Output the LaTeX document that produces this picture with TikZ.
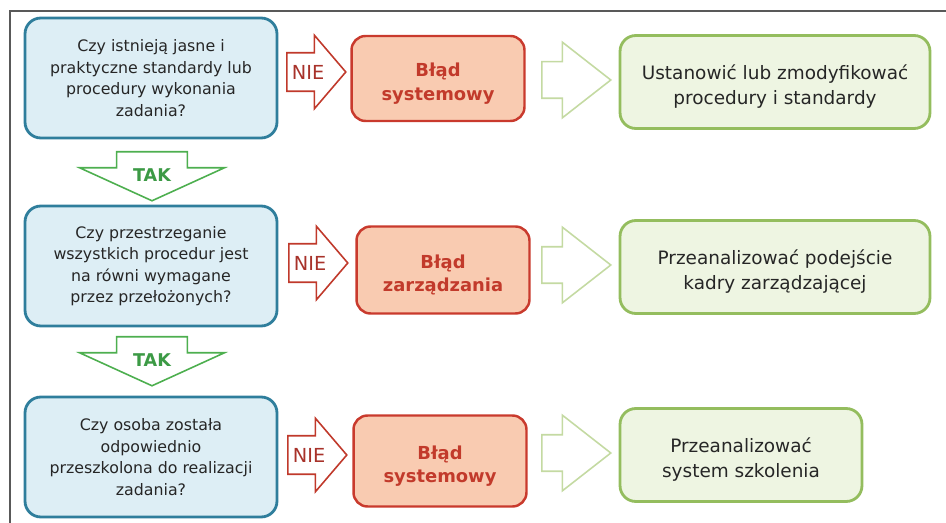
\documentclass[tikz,border=0pt]{standalone}
\usepackage{fontspec}
\setmainfont{DejaVu Sans}
\usetikzlibrary{shapes.arrows}

\definecolor{qfill}{HTML}{DDEEF5}
\definecolor{qline}{HTML}{2F7E9C}
\definecolor{efill}{HTML}{F9CBB1}
\definecolor{eline}{HTML}{C93A2D}
\definecolor{etext}{HTML}{C23A2B}
\definecolor{afill}{HTML}{EEF5E2}
\definecolor{aline}{HTML}{94BD5E}
\definecolor{hline}{HTML}{C4DAA2}
\definecolor{yline}{HTML}{4DAF4F}
\definecolor{ytext}{HTML}{3C9A45}
\definecolor{nline}{HTML}{C0392B}
\definecolor{ntext}{HTML}{A8322A}

% podniesienie pierwszego wiersza
\def\lift{\rule{0pt}{13.5pt}}

\tikzset{
  question/.style={draw=qline, fill=qfill, line width=1.6pt, rounded corners=9pt,
    align=center, minimum width=5.04cm, minimum height=2.4cm, text=black!85,
    font=\fontsize{9}{12.2}\selectfont},
  error/.style={draw=eline, fill=efill, line width=1.4pt, rounded corners=8pt,
    align=center, minimum width=3.46cm, text=etext,
    font=\fontsize{10.2}{13.4}\selectfont\bfseries},
  action/.style={draw=aline, fill=afill, line width=1.6pt, rounded corners=9pt,
    align=center, minimum height=1.86cm, text=black!85,
    font=\fontsize{10.5}{14.2}\selectfont},
  noarrow/.style={single arrow, anchor=tail, draw=nline, fill=white, line width=0.9pt,
    single arrow head extend=0.35cm, single arrow tip angle=99,
    inner xsep=1pt, inner ysep=6.5pt, text height=8pt, text depth=0pt,
    minimum height=1.18cm, text=ntext, font=\fontsize{11}{13}\selectfont},
  hollowarrow/.style={single arrow, anchor=tail, draw=hline, fill=white, line width=0.9pt,
    single arrow head extend=0.39cm, single arrow tip angle=76,
    inner xsep=0pt, inner ysep=0.35cm, minimum height=1.38cm},
  yesarrow/.style={single arrow, shape border rotate=270, anchor=tail, draw=yline,
    fill=white, line width=0.9pt, single arrow head extend=0.74cm,
    single arrow tip angle=131, inner xsep=0.315cm, inner ysep=1pt,
    minimum height=0.98cm, text=ytext, font=\fontsize{10}{12}\selectfont\bfseries},
}

\begin{document}
\begin{tikzpicture}[x=0.02cm, y=-0.02cm]
  \useasboundingbox (0,0) rectangle (946,523);
  % ramka
  \draw[line width=1.1pt, black!65] (946,11) -- (10,11) -- (10,523);

  % pytania
  \node[question] (q1) at (151,78) {Czy istnieją jasne i\\praktyczne standardy lub\\procedury wykonania\\zadania?};
  \node[question] (q2) at (151,266) {Czy przestrzeganie\\wszystkich procedur jest\\na równi wymagane\\przez przełożonych?};
  \node[question] (q3) at (151,457) {Czy osoba została\\odpowiednio\\przeszkolona do realizacji\\zadania?};

  % bledy
  \node[error, minimum height=1.7cm] (e1) at (438,78.5) {\lift Błąd\\systemowy};
  \node[error, minimum height=1.74cm] (e2) at (443,270) {\lift Błąd\\zarządzania};
  \node[error, minimum height=1.82cm] (e3) at (440,461) {\lift Błąd\\systemowy};

  % dzialania
  \node[action, minimum width=6.2cm] (a1) at (775,82) {\lift Ustanowić lub zmodyfikować\\procedury i standardy};
  \node[action, minimum width=6.2cm] (a2) at (775,267) {\lift Przeanalizować podejście\\kadry zarządzającej};
  \node[action, minimum width=4.84cm] (a3) at (741,455) {\lift Przeanalizować\\system szkolenia};

  % strzalki NIE
  \node[noarrow] (n1) at (286,72) {NIE};
  \node[noarrow] (n2) at (288,263) {NIE};
  \node[noarrow] (n3) at (287,455) {NIE};

  % strzalki puste
  \node[hollowarrow] (h1) at (541,80) {};
  \node[hollowarrow] (h2) at (541,265) {};
  \node[hollowarrow] (h3) at (541,453) {};

  % strzalki TAK
  \node[yesarrow] (t1) at (152,151) {\raisebox{-0.27cm}[0pt][0pt]{TAK}};
  \node[yesarrow] (t2) at (152,336) {\raisebox{-0.27cm}[0pt][0pt]{TAK}};
\end{tikzpicture}
\end{document}
